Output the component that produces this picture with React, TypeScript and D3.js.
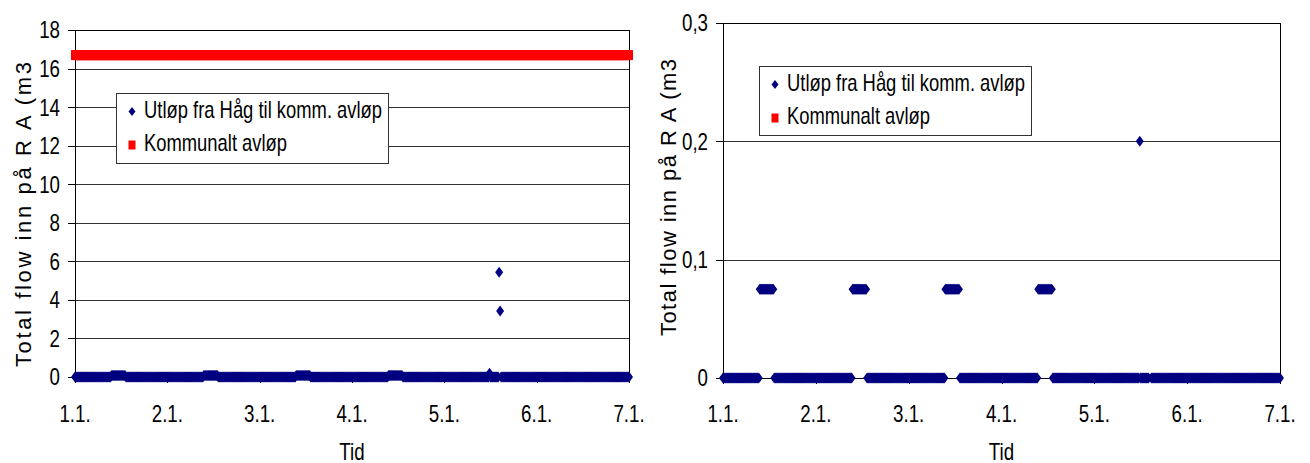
import React from 'react';
import * as d3 from 'd3';

// Day ticks on the time axis
const dayLabels = ['1.1.', '2.1.', '3.1.', '4.1.', '5.1.', '6.1.', '7.1.'];

// Readings every 15 minutes from 1.1. 00:00 through 7.1. 00:00 (m3),
// stored as runs of [number of readings, value]
const utlopFraHagRuns: [number, number][] = [
  [38, 0],
  [15, 0.075],
  [81, 0],
  [15, 0.075],
  [81, 0],
  [15, 0.075],
  [81, 0],
  [15, 0.075],
  [90, 0],
  [1, 0.2],
  [9, 0],
  [1, 5.43],
  [1, 3.42],
  [134, 0],
];

const kommunaltAvlopRuns: [number, number][] = [[577, 16.7]];

const leftTicks = [0, 2, 4, 6, 8, 10, 12, 14, 16, 18];
const rightTicks = [0, 0.1, 0.2, 0.3];

const seriesNames = ['Utløp fra Håg til komm. avløp', 'Kommunalt avløp'];
const yTitle = 'Total flow inn på R A (m3';
const xTitle = 'Tid';

const expandRuns = (runs: [number, number][]) =>
  runs.flatMap(([n, v]) => Array.from({ length: n }, () => v));

const utlopFraHag = expandRuns(utlopFraHagRuns);
const kommunaltAvlop = expandRuns(kommunaltAvlopRuns);
const READINGS_PER_DAY = 96;

const FONT = "'Liberation Sans', Arial, Helvetica, sans-serif";
const NAVY = '#000080';
const RED = '#ff0000';
const GRID = '#333333';

type Panel = {
  key: string;
  x0: number;
  x1: number;
  y0: number;
  y1: number;
  max: number;
  ticks: number[];
  fmt: (v: number) => string;
  legend: { x: number; y: number; w: number; h: number };
  title: { x: number; start: number; length: number };
};

const commaFmt = (v: number) => (v === 0 ? '0' : v.toFixed(1).replace('.', ','));

const panels: Panel[] = [
  {
    key: 'a',
    x0: 75,
    x1: 629,
    y0: 30,
    y1: 377,
    max: 18,
    ticks: leftTicks,
    fmt: (v) => String(v),
    legend: { x: 116, y: 93, w: 272, h: 70 },
    title: { x: 31, start: 367, length: 305 },
  },
  {
    key: 'b',
    x0: 723,
    x1: 1280,
    y0: 23,
    y1: 378,
    max: 0.3,
    ticks: rightTicks,
    fmt: commaFmt,
    legend: { x: 759, y: 66, w: 272, h: 69 },
    title: { x: 676, start: 336, length: 277 },
  },
];

const diamond = (x: number, y: number, w: number, h: number) =>
  `M${x},${y - h / 2}L${x + w / 2},${y}L${x},${y + h / 2}L${x - w / 2},${y}Z`;

const Label = ({
  x,
  y,
  anchor = 'start',
  size = 23.4,
  children,
}: {
  x: number;
  y: number;
  anchor?: string;
  size?: number;
  children: React.ReactNode;
}) => (
  <text
    transform={`translate(${x},${y}) scale(0.8,1)`}
    textAnchor={anchor}
    fontSize={size}
    fontFamily={FONT}
    fill="#000"
  >
    {children}
  </text>
);

function ChartPanel({ p }: { p: Panel }) {
  const idx = d3.range(utlopFraHag.length);
  const x = d3
    .scaleLinear()
    .domain([0, (dayLabels.length - 1) * READINGS_PER_DAY])
    .range([p.x0, p.x1]);
  const y = d3.scaleLinear().domain([0, p.max]).range([p.y1, p.y0]);
  const eps = p.max * 1e-6;

  const blue = idx.filter((i) => utlopFraHag[i] <= p.max + eps);
  const red = idx.filter((i) => kommunaltAvlop[i] <= p.max + eps);
  const cx = (p.x0 + p.x1) / 2;

  return (
    <g>
      {/* gridlines */}
      {p.ticks
        .filter((t) => t > 0 && t < p.max - eps)
        .map((t) => (
          <line
            key={`g${t}`}
            x1={p.x0}
            x2={p.x1}
            y1={Math.round(y(t)) + 0.5}
            y2={Math.round(y(t)) + 0.5}
            stroke={GRID}
            strokeWidth={1}
          />
        ))}
      {/* plot frame */}
      <line x1={p.x0} x2={p.x1} y1={p.y0 + 0.5} y2={p.y0 + 0.5} stroke="#000" />
      <line x1={p.x1 + 0.5} x2={p.x1 + 0.5} y1={p.y0} y2={p.y1} stroke="#000" />
      <line x1={p.x0 + 0.5} x2={p.x0 + 0.5} y1={p.y0} y2={p.y1} stroke="#000" />
      <line x1={p.x0} x2={p.x1} y1={p.y1 + 0.5} y2={p.y1 + 0.5} stroke="#000" />

      {/* y axis ticks and labels */}
      {p.ticks.map((t) => (
        <g key={`y${t}`}>
          <line
            x1={p.x0 - 7}
            x2={p.x0}
            y1={Math.round(y(t)) + 0.5}
            y2={Math.round(y(t)) + 0.5}
            stroke="#000"
          />
          <Label x={p.x0 - 15} y={y(t) + 8.4} anchor="end">
            {p.fmt(t)}
          </Label>
        </g>
      ))}

      {/* x axis ticks and labels */}
      {dayLabels.map((d, i) => (
        <g key={d}>
          <line
            x1={Math.round(x(i * READINGS_PER_DAY)) + 0.5}
            x2={Math.round(x(i * READINGS_PER_DAY)) + 0.5}
            y1={p.y1}
            y2={p.y1 + 6}
            stroke="#000"
          />
          <Label x={x(i * READINGS_PER_DAY)} y={422} anchor="middle">
            {d}
          </Label>
        </g>
      ))}

      {/* axis titles */}
      <Label x={cx} y={460} anchor="middle">
        {xTitle}
      </Label>
      <text
        transform={`translate(${p.title.x},${p.title.start}) rotate(-90)`}
        fontSize={22}
        fontFamily={FONT}
        textLength={p.title.length}
        lengthAdjust="spacing"
        fill="#000"
      >
        {yTitle}
      </text>

      {/* series */}
      {blue.map((i) => (
        <path key={`b${i}`} d={diamond(x(i), y(utlopFraHag[i]), 8, 11)} fill={NAVY} />
      ))}
      {red.map((i) => (
        <rect
          key={`r${i}`}
          x={x(i) - 4}
          y={y(kommunaltAvlop[i]) - 5}
          width={8}
          height={10}
          fill={RED}
        />
      ))}

      {/* legend */}
      <rect
        x={p.legend.x + 0.5}
        y={p.legend.y + 0.5}
        width={p.legend.w}
        height={p.legend.h}
        fill="#fff"
        stroke="#333"
      />
      <path d={diamond(p.legend.x + 16, p.legend.y + 18.5, 7, 9)} fill={NAVY} />
      <Label x={p.legend.x + 28} y={p.legend.y + 24.5} size={23}>
        {seriesNames[0]}
      </Label>
      <rect x={p.legend.x + 12.5} y={p.legend.y + 47.5} width={7} height={9} fill={RED} />
      <Label x={p.legend.x + 28} y={p.legend.y + 58} size={23}>
        {seriesNames[1]}
      </Label>
    </g>
  );
}

export default function App() {
  return (
    <svg
      width={1310}
      height={463}
      style={{ position: 'absolute', left: 0, top: 0, background: '#fff' }}
    >
      <rect width={1310} height={463} fill="#fff" />
      {panels.map((p) => (
        <ChartPanel key={p.key} p={p} />
      ))}
    </svg>
  );
}
